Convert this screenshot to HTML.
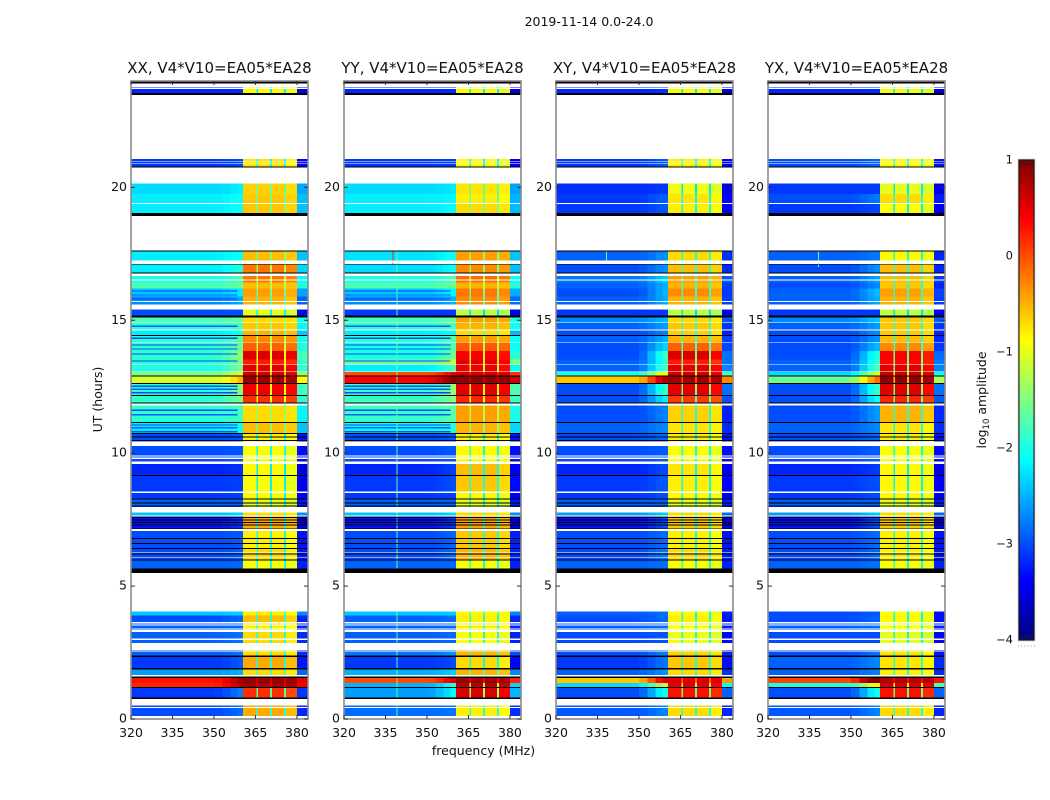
<!DOCTYPE html>
<html lang="en">
<head>
<meta charset="utf-8">
<title>2019-11-14 0.0-24.0</title>
<style>
html,body{margin:0;padding:0;background:#fff;width:1050px;height:800px;overflow:hidden}
svg{display:block}
text{font-family:"DejaVu Sans","Liberation Sans",sans-serif;fill:#111}
</style>
</head>
<body>
<svg id="figure" xmlns="http://www.w3.org/2000/svg" width="1050" height="800" viewBox="0 0 1050 800">
  <text x="589" y="26" font-size="12.5" text-anchor="middle">2019-11-14 0.0-24.0</text>
  <text x="483.5" y="755" font-size="12.5" text-anchor="middle">frequency (MHz)</text>
  <text transform="translate(102,399.5) rotate(-90)" font-size="12.5" text-anchor="middle">UT (hours)</text>
  <text transform="translate(986,400) rotate(-90)" font-size="12.5" text-anchor="middle">log<tspan font-size="8.5" dy="3">10</tspan><tspan dy="-3"> amplitude</tspan></text>
  <g id="panels"></g>
  <g id="colorbar"></g>
</svg>
<script>
// ---- axis values ----
const xTicks = [320, 335, 350, 365, 380];
const yTicks = [0, 5, 10, 15, 20];
const colorbarTicks = [1, 0, -1, -2, -3, -4];
const panelTitles = ['XX, V4*V10=EA05*EA28', 'YY, V4*V10=EA05*EA28', 'XY, V4*V10=EA05*EA28', 'YX, V4*V10=EA05*EA28'];

// ---- frequency channels (MHz) and how each one follows the band level ----
const channelEdges = [320, 350, 353, 356, 358.5, 360.5, 365.3, 366, 370.2, 371, 375.3, 376, 380, 384];
const channelBandShare = [0, 0, 0, 0, 0, 1, 0.42, 1, 0.42, 1, 0.42, 0.96, 0];
const channelLeakCopol = [0, 0.02, 0.1, 0.2, 0.3, 0, 0, 0, 0, 0, 0, 0, 0.3];
const channelLeakCross = [0, 0.1, 0.35, 0.6, 0.75, 0, 0, 0, 0, 0, 0, 0, 0.35];
const channelOffset = [0, 0, 0, 0, 0, 0, 0, 0, 0, 0, 0, 0, -0.35];

// ---- time rows (UT hours) ----
const rowLow = [0.11,0.8,1.21,1.35,1.66,1.91,2.38,2.85,3.36,3.64,3.9,5.67,6.0,6.44,7.15,7.66,7.98,8.29,8.55,9.18,9.69,10.43,10.75,11.18,11.9,12.18,12.64,12.92,13.08,13.34,13.52,13.85,14.19,14.44,14.65,14.92,15.17,15.57,15.9,16.2,16.42,16.79,17.25,19.03,19.42,19.75,20.75,23.54];
const rowHigh = [0.51,1.17,1.35,1.59,1.87,2.34,2.59,3.28,3.64,3.9,4.05,6.0,6.44,7.07,7.62,7.76,8.26,8.51,9.14,9.6,10.27,10.72,11.14,11.82,12.15,12.61,12.89,13.05,13.31,13.52,13.85,14.16,14.41,14.62,14.89,15.1,15.41,15.9,16.2,16.42,16.67,17.09,17.59,19.38,19.75,20.15,21.07,23.76];

// ---- log10 amplitude per row: background level and band level per polarisation ----
const xxBackground = [-3.0,-3.1,0.2,0.3,-2.6,-3.1,-2.9,-2.9,-2.9,-3.0,-2.4,-2.9,-3.0,-3.0,-3.3,-2.4,-2.9,-3.1,-3.1,-3.2,-3.0,-3.0,-2.2,-1.9,-1.9,-1.9,-1.1,-1.5,-2.0,-1.9,-1.9,-1.9,-1.9,-2.2,-1.9,-1.75,-3.0,-2.7,-2.4,-1.75,-2.0,-2.2,-2.2,-2.2,-2.2,-2.3,-3.1,-3.2];
const xxBand = [-0.45,0.15,0.85,0.88,-0.7,-0.45,-0.7,-0.7,-0.8,-0.55,-0.8,-0.9,-0.7,-0.8,-0.45,-0.7,-1.0,-0.85,-0.9,-0.85,-0.9,-0.8,-0.55,-0.7,0.15,0.45,0.88,0.6,0.5,0.25,0.55,-0.1,-0.3,-0.5,-0.6,-0.7,-1.0,-0.5,-0.4,-0.55,-0.2,-0.2,-0.55,-0.6,-0.6,-0.65,-0.75,-0.85];
const yyBackground = [-2.85,-2.6,-2.5,0,-2.5,-3.1,-2.8,-2.9,-2.9,-2.9,-2.4,-2.9,-3.0,-3.0,-3.3,-2.4,-2.9,-3.1,-3.1,-3.2,-3.0,-3.0,-2.1,-1.85,-1.85,-1.85,0.4,0,-2.2,-1.6,-2.0,-2.0,-1.9,-2.2,-1.9,-1.8,-3.1,-2.7,-2.4,-1.75,-2.0,-2.3,-2.25,-2.2,-2.2,-2.3,-3.1,-3.2];
const yyBand = [-0.8,0.55,0.75,0.88,-0.5,-0.7,-0.5,-0.9,-0.8,-0.8,-0.85,-0.9,-0.5,-0.6,-0.4,-0.7,-1.0,-0.85,-0.6,-0.55,-0.85,-0.8,-0.5,-0.4,0.2,0.5,0.92,0.6,0.45,0.5,0.4,-0.05,-0.4,-0.7,-0.5,-0.4,-1.2,-0.3,-0.2,-0.5,-0.15,-0.3,-0.4,-0.7,-0.8,-0.75,-0.9,-0.9];
const xyBackground = [-2.95,-3.0,-2.3,-0.6,-2.9,-3.1,-3.0,-3.0,-2.9,-3.0,-2.9,-2.9,-3.0,-3.0,-3.3,-2.6,-2.9,-3.1,-3.1,-3.2,-3.0,-3.0,-2.9,-3.0,-3.0,-3.0,-0.6,-2.0,-2.9,-2.9,-3.0,-3.0,-2.9,-3.0,-2.9,-2.7,-3.1,-2.9,-3.0,-2.9,-2.8,-3.0,-2.9,-3.1,-3.1,-3.15,-3.1,-3.2];
const xyBand = [-0.7,0.3,0.5,0.55,-0.7,-0.6,-0.65,-0.95,-0.9,-0.8,-0.9,-0.9,-0.7,-0.8,-0.6,-0.7,-1.0,-0.85,-0.8,-0.75,-0.9,-0.8,-0.75,-0.65,0.1,0.5,0.85,0.6,0.5,0.25,0.55,-0.1,-0.5,-0.65,-0.6,-0.7,-1.2,-0.5,-0.3,-0.5,-0.4,-0.55,-0.7,-0.8,-0.75,-0.95,-0.8,-0.9];
const yxBackground = [-2.95,-3.0,-2.0,0.05,-2.9,-2.9,-3.0,-3.0,-2.9,-3.0,-3.0,-2.9,-3.0,-3.0,-3.3,-2.6,-2.9,-3.1,-3.1,-3.2,-3.0,-3.0,-2.9,-3.0,-3.0,-3.0,-1.6,-2.3,-2.9,-2.9,-3.0,-3.0,-3.0,-3.0,-2.9,-2.7,-3.1,-2.9,-2.9,-3.0,-2.9,-3.0,-2.9,-3.1,-3.0,-3.1,-3.0,-3.2];
const yxBand = [-0.7,0.3,0.6,0.75,-0.8,-0.75,-0.75,-1.0,-0.9,-0.85,-0.9,-0.9,-0.8,-0.8,-0.6,-0.7,-1.0,-0.85,-0.85,-0.85,-0.9,-0.8,-0.75,-0.5,0.2,0.5,0.9,0.65,0.5,0.35,0.4,-0.3,-0.55,-0.6,-0.6,-0.6,-1.2,-0.5,-0.4,-0.6,-0.55,-0.55,-0.85,-0.9,-0.7,-1.0,-0.85,-0.95];

// ---- narrow interference streaks: polarisation index, MHz, hours from, hours to, level ----
const streakPanel = [1, 1, 2, 3];
const streakFreq = [339, 337.5, 338, 338];
const streakFrom = [0, 17.1, 17.2, 17.0];
const streakTo = [17.6, 17.6, 17.6, 17.6];
const streakLevel = [-1.7, 0.2, -1.7, -1.6];

// ---- thin low-amplitude stripes in the co-polar background (UT hours, level) ----
const stripeHours = [16.1,15.95,15.8,14.78,14.32,14.07,13.92,13.73,13.47,12.52,12.4,12.27,11.62,11.44,11.06,10.95,10.81];
const stripeLevel = [-3.0,-2.9,-3.0,-2.9,-3.0,-3.0,-2.9,-3.0,-3.0,-3.0,-2.9,-3.0,-3.0,-2.9,-3.0,-2.9,-3.0];

// ---- rows with no data (white) and flagged rows (black), UT hours ----
const gapFrom = [0,0.42,0.51,1.59,2.53,2.59,2.98,3.28,3.40,3.52,3.60,4.05,6.07,6.24,7.07,7.62,7.76,8.51,9.60,9.78,9.88,10.27,11.79,13.05,13.31,14.16,14.62,14.89,15.41,15.59,15.69,16.5,16.67,17.16,17.21,17.62,19.38,20.15,20.89,20.95,21.07,23.7,23.76];
const gapTo = [0.11,0.46,0.76,1.66,2.57,2.85,3.02,3.36,3.43,3.55,3.64,5.5,6.1,6.27,7.15,7.66,7.98,8.55,9.69,9.84,9.92,10.43,11.83,13.08,13.34,14.19,14.65,14.92,15.57,15.62,15.72,16.54,16.75,17.19,17.25,18.93,19.42,20.75,20.92,20.98,23.47,23.74,23.91];
const flagFrom = [0.76,1.17,1.55,1.87,2.34,5.5,5.96,6.18,6.40,6.59,6.78,7.16,7.28,7.38,7.47,7.56,7.99,8.11,8.26,9.14,10.46,10.58,10.72,11.14,11.86,12.15,12.61,12.89,14.41,15.1,16.75,17.09,17.59,18.93,20.75,23.47,23.91];
const flagTo = [0.8,1.21,1.59,1.91,2.38,5.67,6.0,6.22,6.44,6.62,6.81,7.19,7.31,7.41,7.5,7.59,8.03,8.14,8.29,9.18,10.5,10.62,10.75,11.18,11.9,12.18,12.64,12.92,14.44,15.17,16.79,17.12,17.62,19.03,20.78,23.54,24];

const backgroundSeries = [xxBackground, yyBackground, xyBackground, yxBackground];
const bandSeries = [xxBand, yyBand, xyBand, yxBand];

// ---- layout ----
const NS = 'http://www.w3.org/2000/svg';
const panelLefts = [131, 344, 556, 768];
const panelWidth = 177, plotTop = 81, plotBottom = 719;
const cbLeft = 1019, cbWidth = 15, cbTop = 160, cbBottom = 640;

function xAxis(left, mhz) { return left + (mhz - 320) / 64 * panelWidth; }
function yAxis(hours) { return plotBottom - hours / 24 * (plotBottom - plotTop); }
function cbAxis(level) { return cbTop + (1 - level) / 5 * (cbBottom - cbTop); }
function clip01(v) { return Math.max(0, Math.min(1, v)); }
function jet(level) {
  const t = clip01((level + 4) / 5);
  const r = clip01(1.5 - Math.abs(4 * t - 3));
  const g = clip01(1.5 - Math.abs(4 * t - 2));
  const b = clip01(1.5 - Math.abs(4 * t - 1));
  return 'rgb(' + Math.round(r * 255) + ',' + Math.round(g * 255) + ',' + Math.round(b * 255) + ')';
}
function make(tag, parent, attrs) {
  const el = document.createElementNS(NS, tag);
  for (const k in attrs) el.setAttribute(k, attrs[k]);
  parent.appendChild(el);
  return el;
}

const panelsGroup = document.getElementById('panels');
panelLefts.forEach(function (left, p) {
  const g = make('g', panelsGroup, {});
  
  

  const bg = backgroundSeries[p], band = bandSeries[p];
  const leak = p < 2 ? channelLeakCopol : channelLeakCross;

  // heatmap cells
  const cells = make('g', g, { 'shape-rendering': 'crispEdges' });
  
  
  rowLow.forEach(function (low, r) {
    const yTop = yAxis(rowHigh[r]), yBot = yAxis(low);
    for (let c = 0; c < channelBandShare.length; c++) {
      const level = bg[r] + channelBandShare[c] * (band[r] - bg[r]) + leak[c] * Math.max(0, band[r] + 1) + channelOffset[c];
      const x0 = xAxis(left, channelEdges[c]), x1 = xAxis(left, channelEdges[c + 1]);
      const cell = make('rect', cells, { x: x0, y: yTop, width: x1 - x0, height: yBot - yTop, fill: jet(level) });
      
      
    }
  });

  // co-polar background stripes
  if (p < 2) {
    stripeHours.forEach(function (h, s) {
      const x0 = xAxis(left, 320), x1 = xAxis(left, 358.5);
      const stripe = make('rect', g, { x: x0, y: yAxis(h + 0.025), width: x1 - x0, height: yAxis(h - 0.025) - yAxis(h + 0.025), fill: jet(stripeLevel[s]), 'shape-rendering': 'crispEdges' });
      
      
    });
  }

  // interference streaks
  streakPanel.forEach(function (sp, s) {
    if (sp !== p) return;
    const x = xAxis(left, streakFreq[s]);
    const streak = make('rect', g, { x: x, y: yAxis(streakTo[s]), width: 1, height: yAxis(streakFrom[s]) - yAxis(streakTo[s]), fill: jet(streakLevel[s]), 'shape-rendering': 'crispEdges' });
    
    
  });

  // no-data rows
  gapFrom.forEach(function (from, i) {
    const gap = make('rect', g, { x: left, y: yAxis(gapTo[i]), width: panelWidth, height: yAxis(from) - yAxis(gapTo[i]), fill: '#fff', 'shape-rendering': 'crispEdges' });
    
    
  });

  // flagged rows
  flagFrom.forEach(function (from, i) {
    const flag = make('rect', g, { x: left, y: yAxis(flagTo[i]), width: panelWidth, height: yAxis(from) - yAxis(flagTo[i]), fill: '#000', 'shape-rendering': 'crispEdges' });
    
    
  });

  // frame
  const frame = make('rect', g, { x: left, y: plotTop, width: panelWidth, height: plotBottom - plotTop, fill: 'none', stroke: '#8a8a8a', 'stroke-width': 1.6 });
  
  

  // x ticks
  xTicks.forEach(function (t) {
    const x = xAxis(left, t);
    const tickB = make('line', g, { x1: x, x2: x, y1: plotBottom, y2: plotBottom - 4, stroke: '#333', 'stroke-width': 1 });
    
    
    const tickT = make('line', g, { x1: x, x2: x, y1: plotTop, y2: plotTop + 4, stroke: '#333', 'stroke-width': 1 });
    
    
    const label = make('text', g, { x: x, y: 737, 'font-size': 12.5, 'text-anchor': 'middle' });
    label.textContent = String(t);
    
    
  });

  // y ticks
  yTicks.forEach(function (t) {
    const y = yAxis(t);
    const tickL = make('line', g, { x1: left, x2: left + 4, y1: y, y2: y, stroke: '#333', 'stroke-width': 1 });
    
    
    const tickR = make('line', g, { x1: left + panelWidth, x2: left + panelWidth - 4, y1: y, y2: y, stroke: '#333', 'stroke-width': 1 });
    
    
    const label = make('text', g, { x: left - 4, y: y + 3.5, 'font-size': 12.5, 'text-anchor': 'end' });
    label.textContent = String(t);
    
    
  });

  // title
  const title = make('text', g, { x: left + panelWidth / 2, y: 73, 'font-size': 15, 'text-anchor': 'middle' });
  title.textContent = panelTitles[p];
  
  
});

// ---- colorbar ----
const cbGroup = document.getElementById('colorbar');
const cbSteps = cbBottom - cbTop;
for (let i = 0; i < cbSteps; i++) {
  const lvl = 1 - (i + 0.5) / cbSteps * 5;
  const seg = make('rect', cbGroup, { x: cbLeft, y: cbAxis(lvl) - 0.5, width: cbWidth, height: 1.2, fill: jet(lvl), 'shape-rendering': 'crispEdges' });
  
  
}
const cbOuter = make('rect', cbGroup, { x: cbLeft - 0.5, y: cbTop - 0.5, width: cbWidth + 1, height: cbBottom - cbTop + 1, fill: 'none', stroke: '#bbb', 'stroke-width': 1.5 });


const cbInner = make('rect', cbGroup, { x: cbLeft, y: cbTop, width: cbWidth, height: cbBottom - cbTop, fill: 'none', stroke: '#111', 'stroke-width': 1 });


colorbarTicks.forEach(function (t) {
  const y = cbAxis(t);
  const label = make('text', cbGroup, { x: 1013, y: y + 3.5, 'font-size': 11.5, 'text-anchor': 'end' });
  label.textContent = t < 0 ? '\u2212' + Math.abs(t) : String(t);
  
  
});
for (let i = 0; i < 5; i++) {
  const x = cbLeft + 2.5 + i * 2.6;
  const topMark = make('line', cbGroup, { x1: x, x2: x, y1: cbTop, y2: cbTop + 5, stroke: '#222', 'stroke-width': 0.8 });
  
  
  const botMark = make('line', cbGroup, { x1: x, x2: x, y1: cbBottom, y2: cbBottom - 5, stroke: '#222', 'stroke-width': 0.8 });
  
  
}
const dots = make('line', cbGroup, { x1: 1018, x2: 1035, y1: 646, y2: 646, stroke: '#999', 'stroke-width': 1, 'stroke-dasharray': '1 2.2' });


</script>
</body>
</html>
